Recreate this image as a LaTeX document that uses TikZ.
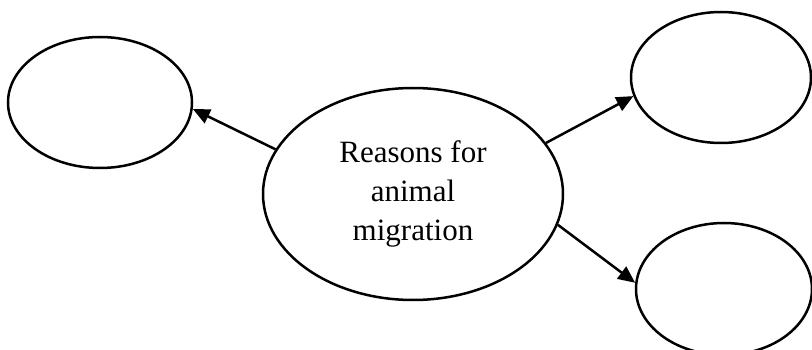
\documentclass[tikz,border=0pt]{standalone}
\usepackage{fontspec}
\setmainfont{Liberation Serif}
\usetikzlibrary{shapes.geometric,arrows.meta}

\begin{document}
\begin{tikzpicture}[x=1pt, y=-1pt,
    bubble/.style={ellipse, draw=black, line width=2.5pt, inner sep=0pt},
    link/.style={line width=2.5pt, -{Triangle[length=17pt,width=15pt]}}
]
    \useasboundingbox (0,0) rectangle (812,350);
    \node[bubble, minimum width=300pt, minimum height=212pt, align=center,
        font=\fontsize{31}{39}\selectfont] (reasons) at (413,194)
        {Reasons for\\animal\\migration};
    \node[bubble, minimum width=184pt, minimum height=131pt] (left) at (100,102.5) {};
    \node[bubble, minimum width=180pt, minimum height=131pt] (upper) at (721,77.5) {};
    \node[bubble, minimum width=176pt, minimum height=132pt] (lower) at (724,289) {};
    \draw[link] (reasons.162) -- (left.-4);
    \draw[link] (reasons.21) -- (upper.192);
    \draw[link] (reasons.-12) -- (lower.176);
\end{tikzpicture}
\end{document}
